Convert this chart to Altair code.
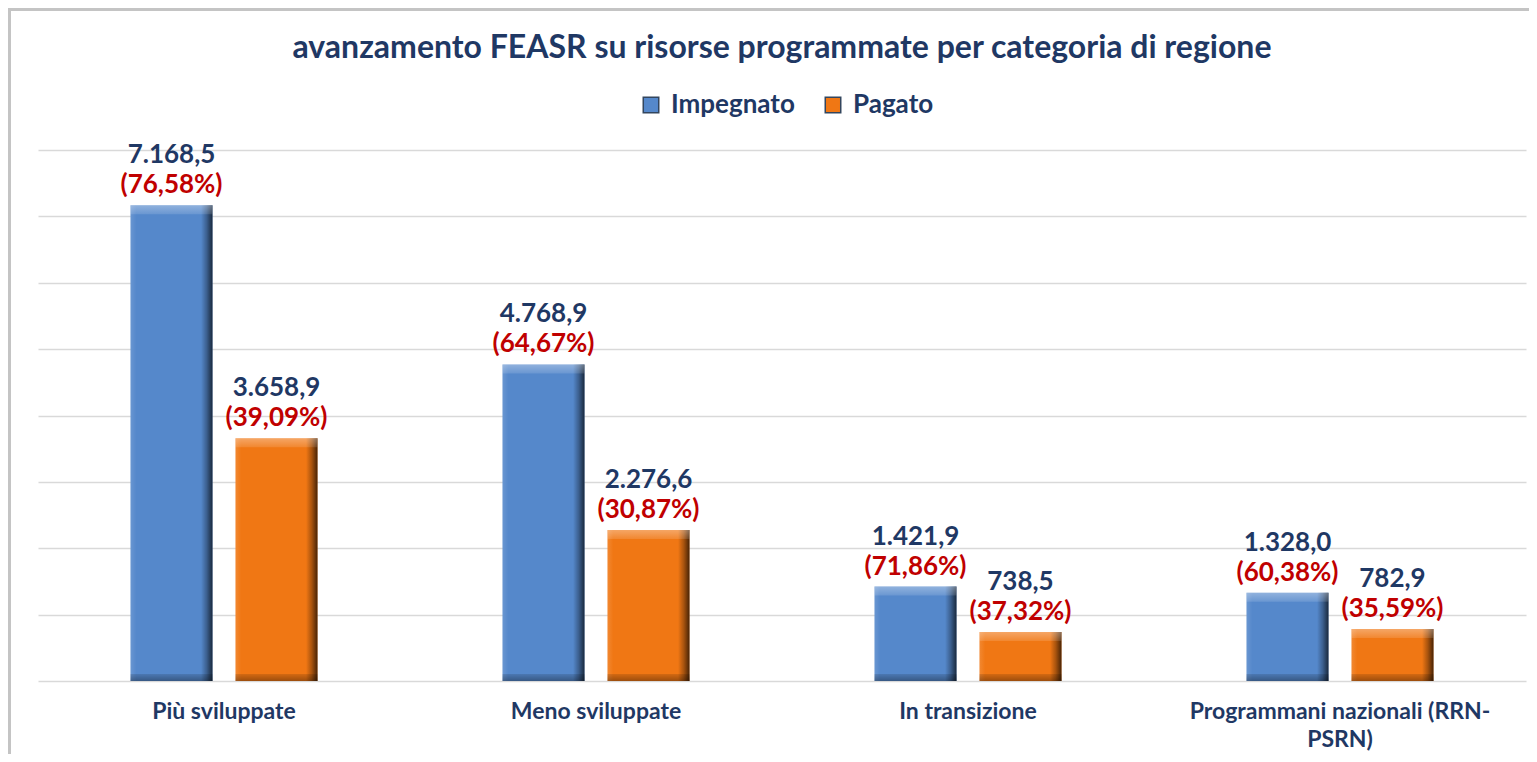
import altair as alt
import pandas as pd

categories = ["Più sviluppate", "Meno sviluppate", "In transizione", "Programmani nazionali (RRN-PSRN)"]
series_names = ["Impegnato", "Pagato"]
impegnato = [7168.5, 4768.9, 1421.9, 1328.0]
pagato = [3658.9, 2276.6, 738.5, 782.9]
impegnato_pct = [76.58, 64.67, 71.86, 60.38]
pagato_pct = [39.09, 30.87, 37.32, 35.59]


def it_num(v, d):
    s = f"{v:,.{d}f}"
    return s.replace(",", "X").replace(".", ",").replace("X", ".")


rows = []
for i, c in enumerate(categories):
    for s, vals, pcts in [("Impegnato", impegnato, impegnato_pct), ("Pagato", pagato, pagato_pct)]:
        rows.append({
            "cat": c,
            "series": s,
            "value": vals[i],
            "vlabel": it_num(vals[i], 1),
            "plabel": "(" + it_num(pcts[i], 2) + "%)",
        })
df = pd.DataFrame(rows)

NAVY = "#1f3864"
RED = "#c00000"
FONT = "Lato"

x_enc = alt.X("cat:N", sort=categories, scale=alt.Scale(paddingInner=0, paddingOuter=0),
              axis=alt.Axis(title=None, labelAngle=0, ticks=False, domain=False,
                            labelFont=FONT, labelFontSize=23, labelFontWeight="bold",
                            labelColor=NAVY, labelPadding=19, labelLimit=400,
                            labelLineHeight=28,
                            labelExpr="datum.label == 'Programmani nazionali (RRN-PSRN)' ? ['Programmani nazionali (RRN-', 'PSRN)'] : datum.label"))
xo_enc = alt.XOffset("series:N", sort=series_names, scale=alt.Scale(paddingInner=0.219, paddingOuter=0.881))
y_scale = alt.Scale(domain=[0, 8000], nice=False)
y_enc = alt.Y("value:Q", scale=y_scale,
              axis=alt.Axis(title=None, labels=False, ticks=False, domain=False,
                            values=list(range(0, 8001, 1000)), gridColor="#d9d9d9", gridWidth=1.6))

base = alt.Chart(df)

bars = base.mark_bar().encode(
    x=x_enc, xOffset=xo_enc, y=y_enc,
    color=alt.Color("series:N", sort=series_names,
                    scale=alt.Scale(domain=series_names, range=["#5588cb", "#f07714"]),
                    legend=alt.Legend(title=None, orient="none", direction="horizontal",
                                      legendX=600, legendY=-58, symbolType="square",
                                      symbolSize=240, symbolStrokeWidth=1.5,
                                      symbolStrokeColor="#33465e",
                                      labelFont=FONT, labelFontSize=26, labelFontWeight="bold",
                                      labelColor=NAVY, columnPadding=25, labelOffset=7,
                                      symbolOffset=0)),
)

shade = base.mark_bar(
    fill=alt.Gradient(gradient="linear", x1=0, x2=1, y1=0, y2=0, stops=[
        alt.GradientStop(color="rgba(255,255,255,0.12)", offset=0),
        alt.GradientStop(color="rgba(255,255,255,0)", offset=0.07),
        alt.GradientStop(color="rgba(0,0,0,0)", offset=0.86),
        alt.GradientStop(color="rgba(0,0,0,0.3)", offset=0.93),
        alt.GradientStop(color="rgba(0,0,0,0.7)", offset=1),
    ])
).encode(x=x_enc, xOffset=xo_enc, y=y_enc)

top_bevel = base.mark_bar(
    y2Offset=9,
    fill=alt.Gradient(gradient="linear", x1=0, x2=0, y1=0, y2=1, stops=[
        alt.GradientStop(color="rgba(255,255,255,0.35)", offset=0),
        alt.GradientStop(color="rgba(255,255,255,0.12)", offset=1),
    ])
).encode(x=x_enc, xOffset=xo_enc, y=y_enc, y2="value:Q")

bottom_bevel = base.mark_bar(
    yOffset=-7,
    fill=alt.Gradient(gradient="linear", x1=0, x2=0, y1=0, y2=1, stops=[
        alt.GradientStop(color="rgba(0,0,0,0.12)", offset=0),
        alt.GradientStop(color="rgba(0,0,0,0.35)", offset=1),
    ])
).encode(x=x_enc, xOffset=xo_enc, y=alt.datum(0, scale=y_scale), y2=alt.datum(0))

vtext = base.mark_text(dy=-50, baseline="middle", align="center", font=FONT, fontSize=26,
                       fontWeight="bold", color=NAVY).encode(
    x=x_enc, xOffset=xo_enc, y=y_enc, text="vlabel:N")

ptext = base.mark_text(dy=-20, baseline="middle", align="center", font=FONT, fontSize=26,
                       fontWeight="bold", color=RED).encode(
    x=x_enc, xOffset=xo_enc, y=y_enc, text="plabel:N")

frame = alt.Data(values=[{"a": 1}])
left_border = alt.Chart(frame).mark_rule(color="#c4c4c4", strokeWidth=3).encode(
    x=alt.value(-28.5), y=alt.value(-142), y2=alt.value(604))
top_border = alt.Chart(frame).mark_rule(color="#c4c4c4", strokeWidth=3).encode(
    x=alt.value(-30), x2=alt.value(1500), y=alt.value(-140.5))

chart = alt.layer(bars, shade, top_bevel, bottom_bevel, vtext, ptext, left_border, top_border).properties(
    width=1488, height=531,
    title=alt.TitleParams("avanzamento FEASR su risorse programmate per categoria di regione",
                          font=FONT, fontSize=32, fontWeight="bold", color=NAVY,
                          anchor="middle", offset=0, dy=58),
    padding={"left": 30, "top": 142, "right": 3, "bottom": 73},
    autosize=alt.AutoSizeParams(type="none"),
).configure_view(stroke=None).configure_axis(labelOverlap=False)

chart.save("out.html", embed_options={"renderer": "svg", "actions": False})
